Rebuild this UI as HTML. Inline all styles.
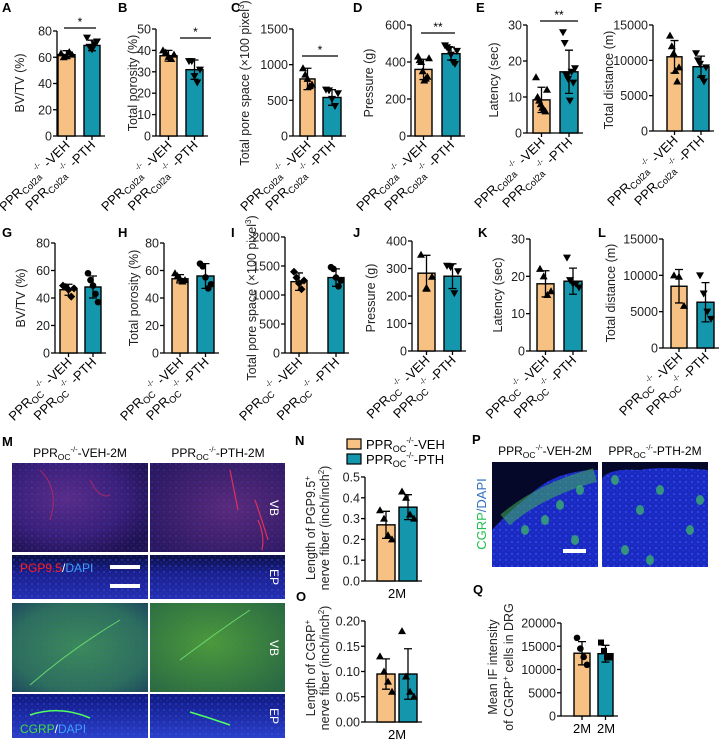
<!DOCTYPE html>
<html><head><meta charset="utf-8"><style>
html,body{margin:0;padding:0;background:#fff;}
svg{display:block;font-family:"Liberation Sans",Arial,sans-serif;}
</style></head><body>
<svg id="fig" width="720" height="740" viewBox="0 0 720 740" xmlns="http://www.w3.org/2000/svg">
<defs>
<radialGradient id="gPur" cx="40%" cy="40%" r="70%"><stop offset="0" stop-color="#5a2c86"/><stop offset="0.6" stop-color="#3a1f78"/><stop offset="1" stop-color="#20124f"/></radialGradient>
<radialGradient id="gPur2" cx="60%" cy="50%" r="70%"><stop offset="0" stop-color="#5b2a7a"/><stop offset="1" stop-color="#2b1860"/></radialGradient>
<linearGradient id="gEP" x1="0" y1="0" x2="0" y2="1"><stop offset="0" stop-color="#0c0f40"/><stop offset="0.4" stop-color="#1a1f8a"/><stop offset="1" stop-color="#2530b0"/></linearGradient>
<radialGradient id="gGrn" cx="50%" cy="50%" r="70%"><stop offset="0" stop-color="#3c8a5a"/><stop offset="0.7" stop-color="#2c6e5c"/><stop offset="1" stop-color="#1e4a5a"/></radialGradient>
<radialGradient id="gGrn2" cx="45%" cy="45%" r="70%"><stop offset="0" stop-color="#4c9a3a"/><stop offset="1" stop-color="#2a6a40"/></radialGradient>
<linearGradient id="gEP2" x1="0" y1="0" x2="0" y2="1"><stop offset="0" stop-color="#101880"/><stop offset="1" stop-color="#2a40c8"/></linearGradient>
<radialGradient id="gDRG" cx="50%" cy="60%" r="70%"><stop offset="0" stop-color="#1b2fc8"/><stop offset="0.8" stop-color="#1424a8"/><stop offset="1" stop-color="#0a0f50"/></radialGradient>
<pattern id="dots" width="6" height="6" patternUnits="userSpaceOnUse"><circle cx="2" cy="2" r="1.1" fill="#3a55ff" opacity="0.7"/><circle cx="5" cy="4.5" r="0.9" fill="#2a40e0" opacity="0.6"/></pattern>
</defs>
</svg>
<script>
// ---------- DATA ----------
const groups = ["VEH", "PTH"];
const meanA = [62, 69]; const sdA = [3, 4];
const vehA = [63, 60, 61, 64, 62]; const pthA = [75, 68, 66, 70, 72];
const meanB = [37.5, 31]; const sdB = [2.5, 4.5];
const vehB = [40, 39, 37, 36, 38]; const pthB = [35, 35, 28, 25, 31];
const meanC = [800, 540]; const sdC = [150, 110];
const vehC = [950, 860, 800, 700, 720]; const pthC = [650, 640, 520, 420, 600];
const meanD = [360, 445]; const sdD = [55, 35];
const vehD = [430, 410, 400, 350, 300, 310, 320, 420]; const pthD = [490, 480, 470, 440, 400, 390, 460];
const meanE = [9.2, 17]; const sdE = [3.5, 6];
const vehE = [15.5, 10, 9, 8, 7, 6.5, 6, 12]; const pthE = [28, 25, 16, 15, 9, 17, 14, 18];
const meanF = [10500, 9100]; const sdF = [2300, 1500];
const vehF = [13500, 12000, 11000, 8500, 7000, 9000]; const pthF = [11000, 10000, 9500, 7500, 7000, 9000];
const meanG = [46, 48]; const sdG = [4, 8];
const vehG = [49, 48, 46, 41, 47]; const pthG = [58, 53, 49, 43, 37];
const meanH = [54, 56]; const sdH = [3, 9];
const vehH = [58, 56, 54, 52, 53]; const pthH = [65, 63, 55, 47, 50];
const meanI = [1230, 1300]; const sdI = [150, 150];
const vehI = [1400, 1300, 1200, 1100, 1250]; const pthI = [1480, 1450, 1300, 1150, 1250];
const meanJ = [283, 272]; const sdJ = [65, 45];
const vehJ = [350, 230, 270]; const pthJ = [310, 305, 210, 290];
const meanK = [18, 18.7]; const sdK = [3.5, 3.5];
const vehK = [22, 20, 15, 16]; const pthK = [25, 19, 18, 18, 17];
const meanL = [8500, 6300]; const sdL = [2300, 2700];
const vehL = [10000, 9800, 5800]; const pthL = [10000, 7500, 5000, 4000];
const meanN = [0.27, 0.355]; const sdN = [0.065, 0.06];
const vehN = [0.34, 0.30, 0.22, 0.20]; const pthN = [0.43, 0.40, 0.32, 0.30];
const meanO = [0.095, 0.095]; const sdO = [0.03, 0.05];
const vehO = [0.13, 0.10, 0.08, 0.06]; const pthO = [0.18, 0.09, 0.06, 0.05];
const meanQ = [13500, 13400]; const sdQ = [2500, 1800];
const vehQ = [16800, 14500, 12700, 11000]; const pthQ = [15800, 14000, 12600, 12600];
const ticksA = [0, 20, 40, 60, 80];
const ticksB = [0, 10, 20, 30, 40, 50];
const ticksC = [0, 500, 1000, 1500];
const ticksD = [0, 200, 400, 600];
const ticksE = [0, 10, 20, 30];
const ticksF = [0, 5000, 10000, 15000];
const ticksG = [0, 20, 40, 60, 80];
const ticksI = [0, 500, 1000, 1500, 2000];
const ticksJ = [0, 100, 200, 300, 400];
const ticksN = ["0.0", "0.1", "0.2", "0.3", "0.4", "0.5"];
const ticksO = ["0.00", "0.05", "0.10", "0.15", "0.20"];
const ticksQ = [0, 5000, 10000, 15000, 20000];

// ---------- DRAW ----------
const NS = "http://www.w3.org/2000/svg";
const svg = document.getElementById("fig");
const ORANGE = "#f8c184", TEAL = "#1497ad";
function mk(tag, attrs, parent) {
  const e = document.createElementNS(NS, tag);
  for (const k in attrs) e.setAttribute(k, attrs[k]);
  (parent || svg).appendChild(e);
  return e;
}
function addTs(t, txt, attrs) { const s = mk("tspan", attrs || {}, t); s.textContent = txt; return s; }

function marker(g, shape, x, y) {
  let e;
  if (shape === "up") e = mk("polygon", {points: `${x},${y-4} ${x-4},${y+3} ${x+4},${y+3}`, fill: "#000"}, g);
  else if (shape === "down") e = mk("polygon", {points: `${x},${y+4} ${x-4},${y-3} ${x+4},${y-3}`, fill: "#000"}, g);
  else if (shape === "dia") e = mk("polygon", {points: `${x},${y-4} ${x-4},${y} ${x},${y+4} ${x+4},${y}`, fill: "#000"}, g);
  else if (shape === "sq") e = mk("rect", {x: x-3, y: y-3, width: 6, height: 6, fill: "#000"}, g);
  else e = mk("circle", {cx: x, cy: y, r: 3.3, fill: "#000"}, g);
  
  
}

function groupLabel(g, x, y, sub, suffix, fs) {
  const t = mk("text", {x: x, y: y, "text-anchor": "end", "font-size": fs, transform: `rotate(-45 ${x} ${y})`}, g);
  
  
  addTs(t, "PPR");
  addTs(t, sub, {"font-size": fs*0.72, dy: 3});
  addTs(t, "-/-", {"font-size": fs*0.6, dy: -10});
  addTs(t, " " + suffix, {dy: 7});
}

function panel(p) {
  const g = mk("g", {});
  
  
  const vals = p.ticks.map(Number);
  const vmax = vals[vals.length-1];
  const yS = v => p.bottom - (v / vmax) * (p.bottom - p.top);
  const L = mk("text", {x: p.lx, y: p.ly, "font-size": 13, "font-weight": "bold"}, g);
  L.textContent = p.id;
  
  
  const ya = mk("line", {x1: p.ax, y1: p.top, x2: p.ax, y2: p.bottom, stroke: "#000", "stroke-width": 1.3}, g);
  
  
  p.ticks.forEach((tk, i) => {
    const y = yS(vals[i]);
    mk("line", {x1: p.ax-4, y1: y, x2: p.ax, y2: y, stroke: "#000", "stroke-width": 1.3}, g);
    const t = mk("text", {x: p.ax-5, y: y+4.5, "text-anchor": "end", "font-size": p.tfs, fill: "#222"}, g);
    t.textContent = tk;
    
    
  });
  p.title.forEach((line, i) => {
    const x = p.tx[i];
    const t = mk("text", {x: x, y: p.ty, "text-anchor": "middle", "font-size": p.tfs, transform: `rotate(-90 ${x} ${p.ty})`, fill: "#222"}, g);
    
    
    line.forEach(seg => { addTs(t, seg[0], seg[1] || {}); });
  });
  const cols = [ORANGE, TEAL];
  const xEnd = p.bars[1][1] + 5;
  const xa = mk("line", {x1: p.ax, y1: p.bottom, x2: xEnd, y2: p.bottom, stroke: "#000", "stroke-width": 1.3}, g);
  
  
  [0, 1].forEach(k => {
    const [x0, x1] = p.bars[k];
    const cx = (x0 + x1) / 2;
    const m = p.means[k], s = p.sds[k];
    const b = mk("rect", {x: x0, y: yS(m), width: x1-x0, height: p.bottom - yS(m), fill: cols[k], stroke: "#000", "stroke-width": 1.4}, g);
    
    
    if (!p.noXTick) mk("line", {x1: cx, y1: p.bottom, x2: cx, y2: p.bottom+4, stroke: "#000", "stroke-width": 1.3}, g);
    const eb = mk("path", {d: `M${cx},${yS(m-s)}V${yS(m+s)}M${cx-4},${yS(m+s)}H${cx+4}M${cx-4},${yS(m-s)}H${cx+4}`, stroke: "#000", "stroke-width": 1.3, fill: "none"}, g);
    
    
    const pts = p.pts[k];
    const n = pts.length, w = (x1 - x0) - 6;
    pts.forEach((v, i) => {
      const jx = n > 1 ? x0 + 3 + w * (i / (n - 1)) : cx;
      marker(g, p.shapes[k], jx, yS(v));
    });
    if (p.xl) groupLabel(g, cx+4, p.bottom+10, p.sub, "-" + groups[k], 13);
  });
  if (p.xcats) p.xcats.forEach((c, k) => {
    const cx = p.xcatX ? p.xcatX[k] : (p.bars[0][0] + p.bars[1][1]) / 2;
    const t = mk("text", {x: cx, y: p.bottom+17, "text-anchor": "middle", "font-size": 13}, g);
    t.textContent = c;
    
    
  });
  if (p.sig) {
    const sl = mk("line", {x1: p.sig[0], y1: p.sig[2], x2: p.sig[1], y2: p.sig[2], stroke: "#000", "stroke-width": 1.3}, g);
    
    
    const st = mk("text", {x: (p.sig[0]+p.sig[1])/2, y: p.sig[2]-2, "text-anchor": "middle", "font-size": 12}, g);
    st.textContent = p.sig[3];
    
    
  }
}

const supS = {"font-size": 8, dy: -5};
const back = {dy: 5};
const fs = 12.5;
const topBase = {tfs: fs, xl: true, sub: "Col2a"};
panel(Object.assign({id: "A", lx: 2, ly: 12, ax: 57, top: 31, bottom: 136, ticks: ticksA, means: meanA, sds: sdA, pts: [vehA, pthA], bars: [[58, 75], [84, 100]], shapes: ["up", "down"], title: [[["BV/TV (%)"]]], tx: [24], ty: 83, sig: [64, 96, 28, "*"]}, topBase));
panel(Object.assign({id: "B", lx: 118, ly: 12, ax: 156, top: 29, bottom: 136, ticks: ticksB, means: meanB, sds: sdB, pts: [vehB, pthB], bars: [[160, 177], [186, 203]], shapes: ["up", "down"], title: [[["Total porosity (%)"]]], tx: [137], ty: 83, sig: [180, 211, 38, "*"]}, topBase));
panel(Object.assign({id: "C", lx: 231, ly: 12, ax: 293, top: 29, bottom: 136, ticks: ticksC, means: meanC, sds: sdC, pts: [vehC, pthC], bars: [[300, 315], [323, 341]], shapes: ["up", "down"], title: [[["Total pore space (×100 pixel"], ["3", supS], [")", back]]], tx: [249], ty: 83, sig: [302, 338, 56, "*"]}, topBase));
panel(Object.assign({id: "D", lx: 353, ly: 12, ax: 411, top: 25, bottom: 136, ticks: ticksD, means: meanD, sds: sdD, pts: [vehD, pthD], bars: [[415, 432], [442, 460]], shapes: ["up", "down"], title: [[["Pressure (g)"]]], tx: [373], ty: 83, sig: [421, 455, 33, "**"]}, topBase));
panel(Object.assign({id: "E", lx: 476, ly: 12, ax: 527, top: 25, bottom: 133, ticks: ticksE, means: meanE, sds: sdE, pts: [vehE, pthE], bars: [[533, 550], [560, 578]], shapes: ["up", "down"], title: [[["Latency (sec)"]]], tx: [498], ty: 80, sig: [540, 578, 21, "**"]}, topBase));
panel(Object.assign({id: "F", lx: 594, ly: 12, ax: 653, top: 25, bottom: 131, ticks: ticksF, means: meanF, sds: sdF, pts: [vehF, pthF], bars: [[667, 682], [693, 709]], shapes: ["up", "down"], title: [[["Total distance (m)"]]], tx: [613], ty: 80}, topBase));

const midBase = {tfs: fs, xl: true, sub: "OC"};
panel(Object.assign({id: "G", lx: 2, ly: 237, ax: 55, top: 243, bottom: 353, ticks: ticksG, means: meanG, sds: sdG, pts: [vehG, pthG], bars: [[60, 77], [85, 101]], shapes: ["dia", "circ"], title: [[["BV/TV (%)"]]], tx: [25], ty: 298}, midBase));
panel(Object.assign({id: "H", lx: 118, ly: 237, ax: 164, top: 243, bottom: 353, ticks: ticksG, means: meanH, sds: sdH, pts: [vehH, pthH], bars: [[172, 188], [197, 214]], shapes: ["up", "circ"], title: [[["Total porosity (%)"]]], tx: [138], ty: 298}, midBase));
panel(Object.assign({id: "I", lx: 231, ly: 237, ax: 285, top: 237, bottom: 353, ticks: ticksI, means: meanI, sds: sdI, pts: [vehI, pthI], bars: [[291, 307], [328, 344]], shapes: ["dia", "circ"], title: [[["Total pore space (×100 pixel"], ["3", supS], [")", back]]], tx: [256], ty: 298}, midBase));
panel(Object.assign({id: "J", lx: 353, ly: 237, ax: 412, top: 241, bottom: 351, ticks: ticksJ, means: meanJ, sds: sdJ, pts: [vehJ, pthJ], bars: [[418, 435], [444, 461]], shapes: ["up", "down"], title: [[["Pressure (g)"]]], tx: [375], ty: 298}, midBase));
panel(Object.assign({id: "K", lx: 478, ly: 237, ax: 530, top: 239, bottom: 351, ticks: ticksE, means: meanK, sds: sdK, pts: [vehK, pthK], bars: [[537, 554], [564, 582]], shapes: ["up", "down"], title: [[["Latency (sec)"]]], tx: [502], ty: 295}, midBase));
panel(Object.assign({id: "L", lx: 598, ly: 237, ax: 663, top: 239, bottom: 348, ticks: ticksF, means: meanL, sds: sdL, pts: [vehL, pthL], bars: [[671, 687], [697, 714]], shapes: ["up", "down"], title: [[["Total distance (m)"]]], tx: [615], ty: 293}, midBase));

panel({id: "N", lx: 295, ly: 445, ax: 365, top: 477, bottom: 581, tfs: 12.5, ticks: ticksN, means: meanN, sds: sdN, pts: [vehN, pthN], bars: [[377, 395], [399, 417]], shapes: ["up", "up"], noXTick: true, xcats: ["2M"], title: [[["Length of PGP9.5"], ["+", supS]], [["nerve fiber (inch/inch"], ["2", supS], [")", back]]], tx: [315, 329], ty: 528});
panel({id: "O", lx: 296, ly: 601, ax: 365, top: 621, bottom: 722, tfs: 12.5, ticks: ticksO, means: meanO, sds: sdO, pts: [vehO, pthO], bars: [[377, 395], [399, 417]], shapes: ["up", "up"], noXTick: true, xcats: ["2M"], title: [[["Length of CGRP"], ["+", supS]], [["nerve fiber (inch/inch"], ["2", supS], [")", back]]], tx: [315, 329], ty: 668});
panel({id: "Q", lx: 473, ly: 594, ax: 561, top: 623, bottom: 716, tfs: 12.5, ticks: ticksQ, means: meanQ, sds: sdQ, pts: [vehQ, pthQ], bars: [[574, 590], [598, 613]], shapes: ["circ", "sq"], xcats: ["2M", "2M"], xcatX: [582, 606], title: [[["Mean IF intensity"]], [["of CGRP"], ["+", supS], [" cells in DRG", back]]], tx: [497, 513], ty: 667});

[["VEH", ORANGE, 439], ["PTH", TEAL, 454]].forEach(([nm, c, y]) => {
  const r = mk("rect", {x: 347, y: y, width: 14, height: 10, fill: c, stroke: "#000", "stroke-width": 1.2});
  
  
  const t = mk("text", {x: 366, y: y+10, "font-size": 13});
  
  
  addTs(t, "PPR"); addTs(t, "OC", {"font-size": 9, dy: 3}); addTs(t, "-/-", {"font-size": 8, dy: -9}); addTs(t, "-" + nm, {dy: 6});
});

function header(x, y, nm) {
  const t = mk("text", {x: x, y: y, "text-anchor": "middle", "font-size": 12});
  
  
  addTs(t, "PPR"); addTs(t, "OC", {"font-size": 8.5, dy: 3}); addTs(t, "-/-", {"font-size": 7.5, dy: -8}); addTs(t, "-" + nm + "-2M", {dy: 5});
}
function letter(x, y, s) { const t = mk("text", {x: x, y: y, "font-size": 13, "font-weight": "bold"}); t.textContent = s;   }
letter(2, 446, "M");
header(80, 457, "VEH"); header(218, 457, "PTH");
letter(472, 444, "P");
header(545, 455, "VEH"); header(655, 455, "PTH");

function img(x, y, w, h, fill, name, dots) {
  const r = mk("rect", {x: x, y: y, width: w, height: h, fill: fill});
  
  
  if (dots) mk("rect", {x: x, y: y, width: w, height: h, fill: "url(#dots)", opacity: dots});
}
img(12, 463, 136, 89, "url(#gPur)", "micrograph-pgp-vb-veh", 0.35);
img(150, 463, 135, 89, "url(#gPur2)", "micrograph-pgp-vb-pth", 0.3);
img(12, 555, 136, 44, "url(#gEP)", "micrograph-pgp-ep-veh", 0.6);
img(150, 555, 135, 44, "url(#gEP)", "micrograph-pgp-ep-pth", 0.6);
img(12, 603, 136, 89, "url(#gGrn)", "micrograph-cgrp-vb-veh", 0.2);
img(150, 603, 135, 89, "url(#gGrn2)", "micrograph-cgrp-vb-pth", 0.15);
img(12, 694, 136, 44, "url(#gEP2)", "micrograph-cgrp-ep-veh", 0.6);
img(150, 694, 135, 44, "url(#gEP2)", "micrograph-cgrp-ep-pth", 0.6);
img(492, 462, 106, 105, "#1a2ac0", "micrograph-drg-veh", 0.9);
img(602, 462, 106, 105, "#1a2ac0", "micrograph-drg-pth", 0.9);
mk("path", {d: "M492,462 H598 V470 Q555,470 530,495 Q505,515 492,530 Z", fill: "#050828"});
mk("path", {d: "M505,520 Q540,490 595,475", stroke: "#3fae5a", "stroke-width": 14, fill: "none", opacity: 0.55});
[[560,505],[580,490],[545,520],[525,530],[575,540],[640,510],[660,490],[690,530],[625,550],[650,560],[700,500],[615,480]].forEach(([x,y]) => mk("ellipse", {cx: x, cy: y, rx: 4, ry: 5, fill: "#40c060", opacity: 0.7}));
mk("path", {d: "M602,462 H708 V470 Q660,466 640,470 Q610,468 602,478 Z", fill: "#050828"});
mk("path", {d: "M258,520 Q265,535 262,550 M255,500 Q262,520 268,540 M230,470 L238,510", stroke: "#e0305a", "stroke-width": 1.2, fill: "none"});
mk("path", {d: "M40,470 Q60,490 50,520 M90,480 Q100,500 110,495", stroke: "#c02860", "stroke-width": 1, fill: "none", opacity: 0.8});
mk("path", {d: "M30,685 Q70,650 120,620 M180,660 Q220,630 250,610", stroke: "#6fe070", "stroke-width": 1, fill: "none", opacity: 0.9});
mk("path", {d: "M30,715 Q60,705 90,718 M190,712 Q210,718 230,725", stroke: "#50ff60", "stroke-width": 1.5, fill: "none"});
function lbl(x, y, parts, rot, name, size) {
  const t = mk("text", {x: x, y: y, "font-size": size || 12, "text-anchor": rot ? "middle" : "start", transform: rot ? `rotate(${rot} ${x} ${y})` : ""});
  
  
  parts.forEach(p => { const s = addTs(t, p[0]); s.setAttribute("fill", p[1]); });
}
lbl(20, 572, [["PGP9.5", "#ff2020"], ["/", "#ffffff"], ["DAPI", "#40a0ff"]], 0, "stain-label-pgp");
lbl(20, 733, [["CGRP", "#40e040"], ["/", "#ffffff"], ["DAPI", "#40a0ff"]], 0, "stain-label-cgrp");
lbl(486, 514, [["CGRP", "#20c050"], ["/", "#3070c0"], ["DAPI", "#3070c0"]], -90, "stain-label-drg", 13);
lbl(270, 508, [["VB", "#ffffff"]], 90, "region-label-vb");
lbl(270, 577, [["EP", "#ffffff"]], 90, "region-label-ep");
lbl(270, 648, [["VB", "#ffffff"]], 90, "region-label-vb2");
lbl(270, 716, [["EP", "#ffffff"]], 90, "region-label-ep2");
[[110, 565, 30], [110, 584, 30], [563, 549, 23]].forEach(([x, y, w]) => {
  const r = mk("rect", {x: x, y: y, width: w, height: 4, fill: "#fff"});
  
  
});
</script>
</body></html>
